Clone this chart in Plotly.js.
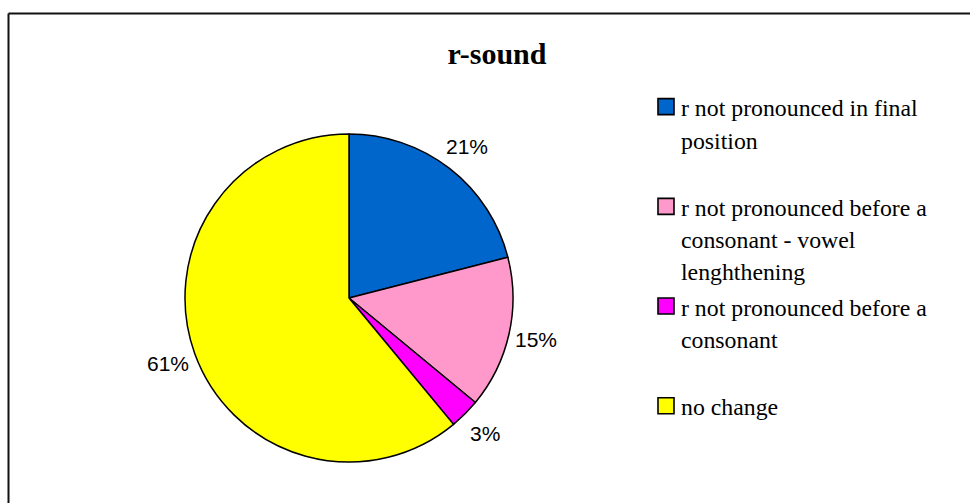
<!DOCTYPE html>
<html>
<head>
<meta charset="utf-8">
<script src="https://cdn.plot.ly/plotly-3.0.1.min.js"></script>
<style>
html, body { margin: 0; padding: 0; background: #ffffff; }
#chart { width: 970px; height: 503px; }
/* larger legend swatches, like the reference */
#chart .legendpie { d: path('M13,8V-8H-3V8Z'); stroke-width: 1.6px !important; stroke: #000 !important; }
</style>
</head>
<body>
<div id="chart"></div>
<script>
// ---- data ----
const chartTitle = 'r-sound';
const categories = [
  'r not pronounced in final<br>position',
  'r not pronounced before a<br>consonant - vowel<br>lenghthening',
  'r not pronounced before a<br>consonant',
  'no change'
];
const values = [21, 15, 3, 61];
const sliceColors = ['#0066CC', '#FF99CC', '#FF00FF', '#FFFF00'];

// ---- layout constants ----
const W = 970, H = 503;
const cx = 349, cy = 298, R = 164;
const labelRadius = 192;       // where the percentage labels sit
const legendFontSize = 24.8;   // controls line pitch in legend
const legendTextSize = 23.8;   // actual glyph size
const LINES_PER_ITEM = 3;

// legend labels: per-line spans, padded to equal line count (even item pitch)
const legendLabels = categories.map((c, i) => {
  const lines = c.split('<br>');
  const out = lines.map(l => '<span style="font-size:' + legendTextSize + 'px">' + l + '</span>');
  if (i < categories.length - 1) {
    while (out.length < LINES_PER_ITEM) out.push('\u00A0');
  }
  return out.join('<br>');
});

// percentage labels placed outside each slice at its mid-angle
const total = values.reduce((a, b) => a + b, 0);
let cum = 0;
const pctAnnotations = values.map(v => {
  const mid = (cum + v / 2) / total;
  cum += v;
  const th = mid * 2 * Math.PI;
  const px = cx + labelRadius * Math.sin(th);
  const py = cy - labelRadius * Math.cos(th);
  return {
    xref: 'paper', yref: 'paper',
    x: px / W, y: 1 - py / H,
    xanchor: 'center', yanchor: 'middle',
    text: Math.round(v / total * 100) + '%',
    showarrow: false,
    font: { family: 'Liberation Sans, Arial, sans-serif', size: 21, color: '#000000' }
  };
});

const trace = {
  type: 'pie',
  labels: legendLabels,
  values: values,
  sort: false,
  direction: 'clockwise',
  rotation: 0,
  marker: { colors: sliceColors, line: { color: '#000000', width: 1.5 } },
  textinfo: 'none',
  hoverinfo: 'skip',
  automargin: false,
  domain: {
    x: [(cx - R) / W, (cx + R) / W],
    y: [1 - (cy + R) / H, 1 - (cy - R) / H]
  }
};

const layout = {
  width: W,
  height: H,
  margin: { l: 0, r: 0, t: 0, b: 0, pad: 0 },
  paper_bgcolor: '#ffffff',
  plot_bgcolor: '#ffffff',
  title: {
    text: chartTitle,
    font: { family: 'Liberation Serif, Times New Roman, serif', size: 30, weight: 'bold', color: '#000000' },
    x: 497 / W, xref: 'paper', xanchor: 'center',
    y: 1 - 53 / H, yref: 'paper', yanchor: 'middle'
  },
  showlegend: true,
  legend: {
    x: 641 / W, xanchor: 'left',
    y: 1 - 84 / H, yanchor: 'top',
    valign: 'top',
    bgcolor: 'rgba(0,0,0,0)',
    borderwidth: 0,
    font: { family: 'Liberation Serif, Times New Roman, serif', size: legendFontSize, color: '#000000' },
    traceorder: 'normal'
  },
  annotations: pctAnnotations,
  shapes: [
    { type: 'line', xref: 'paper', yref: 'paper', x0: 8.5 / W, x1: 1.02, y0: 1 - 13.5 / H, y1: 1 - 13.5 / H,
      line: { color: '#111111', width: 2 } },
    { type: 'line', xref: 'paper', yref: 'paper', x0: 8.5 / W, x1: 8.5 / W, y0: -0.02, y1: 1 - 13.5 / H,
      line: { color: '#111111', width: 2 } }
  ]
};

Plotly.newPlot('chart', [trace], layout, { staticPlot: true, displayModeBar: false });
</script>
</body>
</html>
